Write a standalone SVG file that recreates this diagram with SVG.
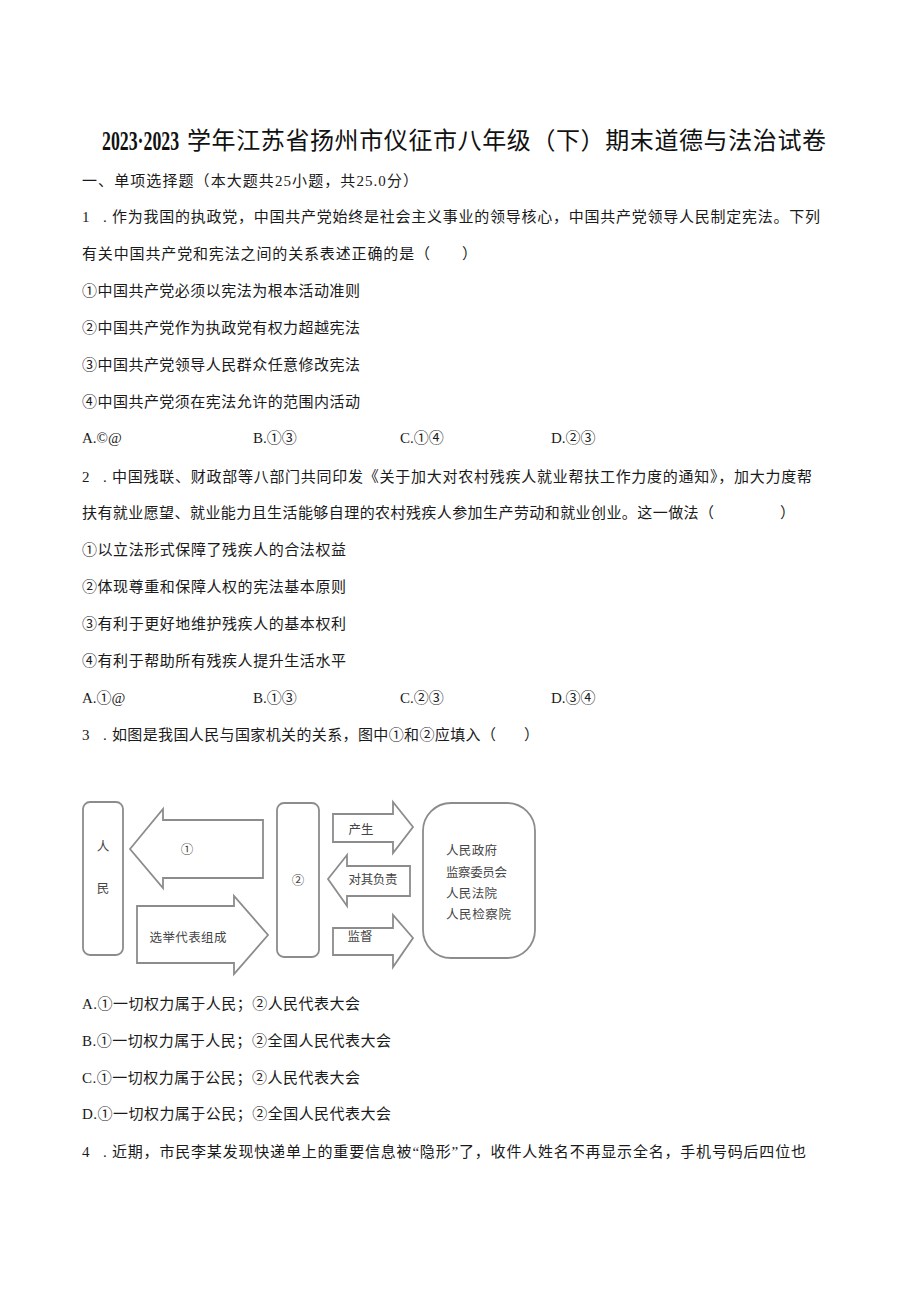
<svg xmlns="http://www.w3.org/2000/svg" width="920" height="1301" viewBox="0 0 920 1301">
<style>
.t{font-family:"Liberation Serif","Noto Sans CJK SC",serif;font-size:15px;fill:#1a1a1a}
.ti{font-family:"Liberation Serif","Noto Sans CJK SC",serif;font-size:24px;fill:#111}
.tb{font-family:"Liberation Serif","Noto Sans CJK SC",serif;font-size:27px;font-weight:bold;fill:#111}
.sh{fill:#fff;stroke:#8c8c8c;stroke-width:1.8;stroke-linejoin:miter}
.dl{font-family:"Noto Sans CJK SC","Liberation Sans",sans-serif;font-size:12.5px;fill:#454545}
.dc{font-family:"Noto Sans CJK SC","Liberation Sans",sans-serif;font-size:12.5px;fill:#454545;text-anchor:middle}
</style>
<rect width="920" height="1301" fill="#fff"/>

<g id="title">
<text class="tb" transform="translate(102,150) scale(0.66,1)" x="0" y="0">2023·2023</text>
<text class="ti" x="187" y="149" textLength="639">学年江苏省扬州市仪征市八年级（下）期末道德与法治试卷</text>
</g>

<g id="section">
<text class="t" x="82" y="186" textLength="336">一、单项选择题（本大题共25小题，共25.0分）</text>
</g>

<g id="q1">
<text class="t" x="82" y="222">1</text>
<text class="t" x="103" y="222">.</text>
<text class="t" x="112" y="222" textLength="708">作为我国的执政党，中国共产党始终是社会主义事业的领导核心，中国共产党领导人民制定宪法。下列</text>
<text class="t" x="82" y="259" textLength="348">有关中国共产党和宪法之间的关系表述正确的是（</text>
<text class="t" x="462" y="259">）</text>
<text class="t" x="82" y="296" textLength="278">①中国共产党必须以宪法为根本活动准则</text>
<text class="t" x="82" y="333" textLength="278">②中国共产党作为执政党有权力超越宪法</text>
<text class="t" x="82" y="370" textLength="278">③中国共产党领导人民群众任意修改宪法</text>
<text class="t" x="82" y="407" textLength="278">④中国共产党须在宪法允许的范围内活动</text>
<text class="t" x="82" y="443">A.©@</text>
<text class="t" x="253" y="443">B.①③</text>
<text class="t" x="400" y="443">C.①④</text>
<text class="t" x="551" y="443">D.②③</text>
</g>

<g id="q2">
<text class="t" x="82" y="482">2</text>
<text class="t" x="103" y="482">.</text>
<text class="t" x="112" y="482" textLength="700">中国残联、财政部等八部门共同印发《关于加大对农村残疾人就业帮扶工作力度的通知》，加大力度帮</text>
<text class="t" x="82" y="518" textLength="632">扶有就业愿望、就业能力且生活能够自理的农村残疾人参加生产劳动和就业创业。这一做法（</text>
<text class="t" x="780" y="518">）</text>
<text class="t" x="82" y="555" textLength="264">①以立法形式保障了残疾人的合法权益</text>
<text class="t" x="82" y="592" textLength="264">②体现尊重和保障人权的宪法基本原则</text>
<text class="t" x="82" y="629" textLength="264">③有利于更好地维护残疾人的基本权利</text>
<text class="t" x="82" y="666" textLength="264">④有利于帮助所有残疾人提升生活水平</text>
<text class="t" x="82" y="703">A.①@</text>
<text class="t" x="253" y="703">B.①③</text>
<text class="t" x="400" y="703">C.②③</text>
<text class="t" x="551" y="703">D.③④</text>
</g>

<g id="q3">
<text class="t" x="82" y="740">3</text>
<text class="t" x="103" y="740">.</text>
<text class="t" x="112" y="740" textLength="384">如图是我国人民与国家机关的关系，图中①和②应填入（</text>
<text class="t" x="524" y="740">）</text>
</g>

<g id="diagram">
<g id="node-renmin">
<rect class="sh" x="83" y="802" width="40" height="153" rx="7"/>
<text class="dc" x="103" y="851" font-size="14">人</text>
<text class="dc" x="103" y="893" font-size="14">民</text>
</g>
<g id="node-2">
<rect class="sh" x="277" y="803" width="42" height="154" rx="7"/>
<text class="dc" x="298" y="885" font-size="15">②</text>
</g>
<g id="node-organs">
<rect class="sh" x="423" y="803" width="112" height="155" rx="28"/>
<text class="dl" x="446" y="855" textLength="51">人民政府</text>
<text class="dl" x="446" y="877" textLength="61">监察委员会</text>
<text class="dl" x="446" y="898" textLength="51">人民法院</text>
<text class="dl" x="446" y="919" textLength="65">人民检察院</text>
</g>
<g id="connectors">
<g id="arrow-1">
<polygon class="sh" points="130,849 163,809 163,820 263,820 263,878 163,878 163,888"/>
<text class="dc" x="187" y="854" font-size="15">①</text>
</g>
<g id="arrow-xuanju">
<polygon class="sh" points="137,906 234,906 234,896 268,935 234,974 234,963 137,963"/>
<text class="dc" x="188" y="942" textLength="77">选举代表组成</text>
</g>
<g id="arrow-chansheng">
<polygon class="sh" points="333,814 393,814 393,802 413,827 393,853 393,842 333,842"/>
<text class="dc" x="361" y="834">产生</text>
</g>
<g id="arrow-fuze">
<polygon class="sh" points="328,879 347,855 347,866 410,866 410,896 347,896 347,906"/>
<text class="dc" x="373" y="884" textLength="49">对其负责</text>
</g>
<g id="arrow-jiandu">
<polygon class="sh" points="333,928 393,928 393,915 413,938 393,967 393,955 333,955"/>
<text class="dc" x="360" y="941">监督</text>
</g>
</g>
</g>

<g id="q3-options">
<text class="t" x="82" y="1009" textLength="278">A.①一切权力属于人民；②人民代表大会</text>
<text class="t" x="82" y="1046" textLength="309">B.①一切权力属于人民；②全国人民代表大会</text>
<text class="t" x="82" y="1083" textLength="278">C.①一切权力属于公民；②人民代表大会</text>
<text class="t" x="82" y="1119" textLength="309">D.①一切权力属于公民；②全国人民代表大会</text>
</g>

<g id="q4">
<text class="t" x="82" y="1157">4</text>
<text class="t" x="103" y="1157">.</text>
<text class="t" x="112" y="1157" textLength="694">近期，市民李某发现快递单上的重要信息被“隐形”了，收件人姓名不再显示全名，手机号码后四位也</text>
</g>
</svg>
